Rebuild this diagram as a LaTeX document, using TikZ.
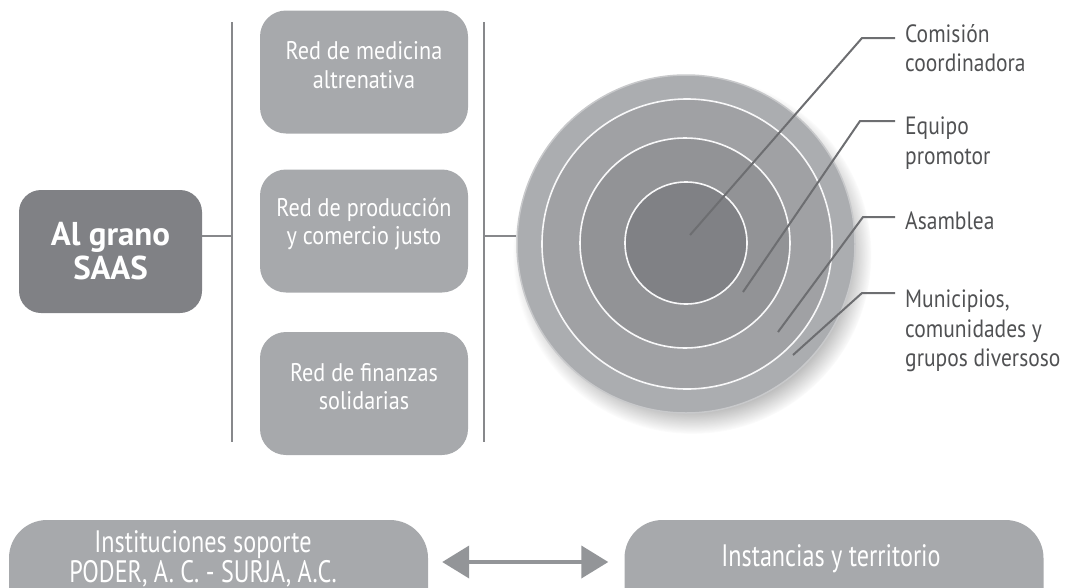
\documentclass[tikz,border=0pt]{standalone}
\usepackage{fontspec}
\setmainfont{PT Sans}
\newfontfamily\condfont{PT Sans}[FakeStretch=0.87]
\newfontfamily\labfont{PT Sans}[FakeStretch=0.86]
\newfontfamily\narrowfont{PT Sans}[FakeStretch=0.78]
\newfontfamily\boldfont{PT Sans}
\usetikzlibrary{shadows,arrows.meta}
\definecolor{cdark}{RGB}{128,129,133}
\definecolor{cbox}{RGB}{167,169,172}
\definecolor{cline}{RGB}{135,136,139}
\definecolor{cleader}{RGB}{109,110,113}
\definecolor{clab}{RGB}{80,81,83}
\definecolor{cring1}{RGB}{171,173,176}
\definecolor{cring2}{RGB}{160,161,164}
\definecolor{cring3}{RGB}{146,147,150}
\definecolor{cring4}{RGB}{128,129,133}
\definecolor{crim}{RGB}{200,201,203}
\definecolor{carrow}{RGB}{147,149,152}
\begin{document}
\begin{tikzpicture}[x=1pt,y=-1pt,
  saasbox/.style={rectangle, rounded corners=22pt, fill=cdark, minimum width=183pt, minimum height=123pt, inner sep=0pt},
  saastext/.style={text=white, font=\boldfont\bfseries\fontsize{33}{34}\selectfont, align=center, inner sep=0pt},
  redbox/.style={rectangle, rounded corners=26pt, fill=cbox, minimum width=208pt, minimum height=123pt, inner sep=0pt},
  boxtext/.style={text=white, font=\condfont\fontsize{25.5}{28.5}\selectfont, align=center, inner sep=0pt},
  basebox/.style={rectangle, rounded corners=38pt, fill=cbox, minimum width=419pt, minimum height=120pt, inner sep=0pt},
  basetext/.style={text=white, font=\narrowfont\fontsize{31}{30.5}\selectfont, align=center, inner sep=0pt},
  lab/.style={text=clab, font=\labfont\fontsize{25}{29.5}\selectfont, align=left, anchor=north west, inner sep=0pt},
  connector/.style={draw=cline, line width=2.6pt},
  leader/.style={draw=cleader, line width=2pt},
  ring/.style={circle, inner sep=0pt, draw=white!92!cring1, line width=1.6pt},
  twoway/.style={draw=carrow, line width=4pt, {Triangle[length=27pt,width=32pt]}-{Triangle[length=27pt,width=32pt]}}
]
\useasboundingbox (0,0) rectangle (1069,587);
\clip (0,0) rectangle (1069,587);

% left box
\node[saasbox] (saas) at (110.5,251.5) {};
\node[saastext] (saast) at (saas.center) {Al grano\\SAAS};

% vertical bars
\coordinate (v1top) at (232,22);
\coordinate (v1bot) at (232,442);
\coordinate (v2top) at (484,22);
\coordinate (v2bot) at (484,442);
\coordinate (hy) at (0,236);
\draw[connector] (v1top) -- (v1bot);
\draw[connector] (v2top) -- (v2bot);

% network boxes
\node[redbox] (r1) at (364,72) {};
\node[redbox] (r2) at (364,231) {};
\node[redbox] (r3) at (364,393.5) {};
\node[boxtext] (r1t) at ([yshift=7pt]r1.center) {Red de medicina\\altrenativa};
\node[boxtext] (r2t) at ([yshift=7pt]r2.center) {Red de producción\\y comercio justo};
\node[boxtext] (r3t) at ([yshift=7pt]r3.center) {Red de finanzas\\solidarias};

% circle
\node[circle, inner sep=0pt, minimum size=338pt, fill=cring1, draw=crim, line width=1.5pt,
  circular drop shadow={shadow xshift=6pt, shadow yshift=-10pt, shadow scale=1.06, opacity=0.55, fill=black!55}] (outer) at (686,244) {};
\node[ring, minimum size=290pt, fill=cring2] (c2) at (687,244) {};
\node[ring, minimum size=210pt, fill=cring3] (c3) at (685,243) {};
\node[ring, minimum size=122pt, fill=cring4] (c4) at (686,243) {};

% connectors
\draw[connector] (saas.east |- hy) -- (v1top |- hy);
\draw[connector] (v2top |- hy) -- (outer.west |- hy);

% leaders
\coordinate (e1) at (690,235); \coordinate (k1) at (862,38);  \coordinate (t1) at (895,38);
\coordinate (e2) at (743,292); \coordinate (k2) at (860,121); \coordinate (t2) at (895,121);
\coordinate (e3) at (778,332); \coordinate (k3) at (863,217); \coordinate (t3) at (895,217);
\coordinate (e4) at (793,355); \coordinate (k4) at (862,293); \coordinate (t4) at (895,293);
\draw[leader] (e1) -- (k1) -- (t1);
\draw[leader] (e2) -- (k2) -- (t2);
\draw[leader] (e3) -- (k3) -- (t3);
\draw[leader] (e4) -- (k4) -- (t4);
\node[lab] (l1) at (905,24) {Comisión\\coordinadora};
\node[lab] (l2) at (905,117) {Equipo\\promotor};
\node[lab] (l3) at (905,212) {Asamblea};
\node[lab] (l4) at (905,290) {Municipios,\\comunidades y\\grupos diversoso};

% bottom
\node[basebox] (inst) at (218.5,580) {};
\node[basebox] (terr) at (834,580) {};
\node[basetext] (instt) at (203,559) {Instituciones soporte\\PODER, A. C. - SURJA, A.C.};
\node[basetext] (terrt) at (831,559) {Instancias y territorio};
\draw[twoway, shorten <=14pt, shorten >=16pt] ([yshift=18pt]inst.east) -- ([yshift=18pt]terr.west);
\end{tikzpicture}
\end{document}
